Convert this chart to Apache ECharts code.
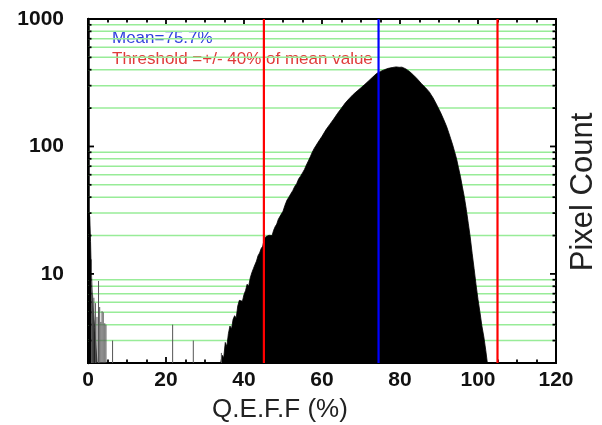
<!DOCTYPE html>
<html><head><meta charset="utf-8">
<script src="https://cdn.jsdelivr.net/npm/echarts@6/dist/echarts.min.js"></script>
<style>html,body{margin:0;padding:0;background:#fff}#c{width:602px;height:425px}</style>
</head><body><div id="c"></div>
<script>
// ---- data ----
const histX = [34.0,34.4,34.8,35.2,35.6,36.0,36.4,36.8,37.2,37.6,38.0,38.4,38.8,39.2,39.6,40.0,40.4,40.8,41.2,41.6,42.0,42.4,42.8,43.2,43.6,44.0,44.4,44.8,45.2,45.6,46.0,46.4,46.8,47.2,47.6,48.0,48.4,48.8,49.2,49.6,50.0,50.5,51.0,51.5,52.0,52.5,53.0,53.5,54.0,54.5,55.0,55.5,56.0,56.5,57.0,57.5,58.0,58.5,59.0,59.5,60.0,61.0,62.0,63.0,64.0,65.0,66.0,67.0,68.0,69.0,70.0,71.0,72.0,73.0,74.0,75.0,76.0,77.0,78.0,79.0,79.8,80.5,81.5,82.5,83.5,84.5,85.5,86.5,87.5,88.5,89.5,90.5,91.5,92.0,92.5,93.0,93.5,94.0,94.5,95.0,95.5,96.0,96.5,97.0,97.5,98.0,98.5,99.0,99.5,100.0,100.5,101.0,101.5,102.0,102.4];
const histY = [2.0,2.3,2.2,2.9,2.7,3.4,3.9,3.7,4.4,4.7,4.5,5.6,6.2,6.4,6.1,6.9,7.4,8.3,8.0,9.3,10.2,11.0,11.8,12.6,13.9,14.6,15.8,16.5,18.8,19.6,19.0,20.1,20.6,20.0,22.0,23.5,24.6,26.8,27.5,29.6,31.0,34.5,37.8,40.0,42.5,45.0,48.5,51.0,55.5,58.5,62.0,66.0,71.5,77.0,83.0,90.0,96.5,102,108,114,120,135,149,164,182,200,220,238,256,272,289,307,328,350,374,388,400,410,416,421,418,419,406,386,362,337,311,290,268,240,210,182,155,142,128,115,103,91,80,68,58,48,40,32,25,19.5,14.5,11,8.2,6.3,5.0,3.9,3.2,2.5,2.0];
const lowX = [0.25,0.45,0.65,0.8,0.95,1.1,1.4,1.7,2.0,2.3];
const lowY = [30,28,18,11.5,9,6.5,5,3.8,2.8,2.0];
const spikeX = [0.9,1.2,1.5,1.9,2.3,2.7,3.0,3.3,3.6,3.9,4.3,4.6,6.3,21.7,27.0,34.2];
const spikeY = [13,6.8,6.5,5.9,4.6,8.8,5.5,4.2,5.1,5.0,4.1,4.0,3.0,4.0,3.0,2.4];
const thresholdX = [45.1, 105.0];
const meanX = [74.5];
const yMajorTicks = [10, 100, 1000];
const yMinorTicks = [3,4,5,6,7,8,9,20,30,40,50,60,70,80,90,200,300,400,500,600,700,800,900];
const meanText = 'Mean=75.7%';
const thresholdText = 'Threshold =+/- 40% of mean value';
const xTitle = 'Q.E.F.F (%)';
const yTitle = 'Pixel Count';

const FONT = '"Liberation Sans", Arial, sans-serif';
const chart = echarts.init(document.getElementById('c'), null, {renderer:'canvas'});

const pairs = (xs, ys) => xs.map((x,i)=>[x, ys[i]]);

const gridLineSeries = {
  type:'custom', z:1, silent:true,
  data: yMinorTicks.map(v=>[0, v]),
  encode:{x:0, y:1},
  renderItem(params, api){
    const cs = params.coordSys;
    const y = api.coord([0, api.value(1)])[1];
    return {type:'line', shape:{x1:cs.x, y1:y, x2:cs.x+cs.width, y2:y},
      style:{stroke:'#98ec98', lineWidth:1.5}};
  }
};
const tickSeries = {
  type:'custom', z:6, silent:true,
  data: yMajorTicks.map(v=>[0,v,1]).concat(yMinorTicks.map(v=>[0,v,0])),
  encode:{x:0, y:1},
  renderItem(params, api){
    const cs = params.coordSys;
    const y = api.coord([0, api.value(1)])[1];
    const len = api.value(2) ? 6 : 3.5;
    return {type:'group', children:[
      {type:'line', shape:{x1:cs.x, y1:y, x2:cs.x+len, y2:y}, style:{stroke:'#000', lineWidth:1.8}},
      {type:'line', shape:{x1:cs.x+cs.width-len, y1:y, x2:cs.x+cs.width, y2:y}, style:{stroke:'#000', lineWidth:1.8}}
    ]};
  }
};
const vlineSeries = (xs, color) => ({
  type:'custom', z:5, silent:true,
  data: xs.map(x=>[x, 2]),
  encode:{x:0, y:1},
  renderItem(params, api){
    const cs = params.coordSys;
    const x = api.coord([api.value(0), 2])[0];
    return {type:'line', shape:{x1:x, y1:cs.y, x2:x, y2:cs.y+cs.height},
      style:{stroke:color, lineWidth:2.2}};
  }
});
const spikeSeries = {
  type:'custom', z:4, silent:true,
  data: pairs(spikeX, spikeY),
  encode:{x:0, y:1},
  renderItem(params, api){
    const cs = params.coordSys;
    const p = api.coord([api.value(0), api.value(1)]);
    return {type:'line', shape:{x1:p[0], y1:cs.y+cs.height, x2:p[0], y2:p[1]},
      style:{stroke:'#555', lineWidth:1}};
  }
};
const areaSeries = (data) => ({
  type:'line', z:3, data, showSymbol:false, symbol:'none', silent:true,
  lineStyle:{color:'#000', width:0.8},
  areaStyle:{color:'#000', opacity:1, origin:'start'}
});

const logAxisBase = {type:'log', logBase:10, min:2, max:1000, splitLine:{show:false}, axisTick:{show:false}};
chart.setOption({
  animation:false,
  backgroundColor:'#fff',
  grid:{left:88, right:46, top:19, bottom:62, show:true, borderColor:'#000', borderWidth:2, backgroundColor:'transparent'},
  xAxis:[
    {type:'value', position:'bottom', min:0, max:120, interval:20,
     axisLine:{show:true, lineStyle:{color:'#000', width:2}},
     axisTick:{show:true, inside:true, length:6, lineStyle:{color:'#000', width:1.8}},
     minorTick:{show:true, splitNumber:4, length:3.5, lineStyle:{color:'#000', width:1.8}},
     splitLine:{show:false},
     axisLabel:{color:'#111', fontFamily:FONT, fontWeight:'bold', fontSize:21, margin:7}},
    {type:'value', position:'top', min:0, max:120, interval:20,
     axisLine:{show:true, lineStyle:{color:'#000', width:2}},
     axisTick:{show:true, inside:true, length:6, lineStyle:{color:'#000', width:1.8}},
     minorTick:{show:true, splitNumber:4, length:3.5, lineStyle:{color:'#000', width:1.8}},
     splitLine:{show:false}, axisLabel:{show:false}}
  ],
  yAxis:[
    Object.assign({}, logAxisBase, {position:'left',
      axisLine:{show:true, lineStyle:{color:'#000', width:2.5}},
      axisLabel:{color:'#111', fontFamily:FONT, fontWeight:'bold', fontSize:21, margin:24,
        formatter:(v)=>{const l=Math.log10(v); return (Math.abs(l-Math.round(l))<1e-6 && v>=10) ? String(Math.round(v)) : '';}}}),
    Object.assign({}, logAxisBase, {position:'right',
      axisLine:{show:true, lineStyle:{color:'#000', width:2}}, axisLabel:{show:false}})
  ],
  graphic:[
    {type:'text', left:112, top:30, style:{text:meanText, fill:'#3040dd', font:'17px '+FONT}},
    {type:'text', left:112, top:51, style:{text:thresholdText, fill:'#e03a3a', font:'17px '+FONT}},
    {type:'text', x:280, y:410,
     style:{text:xTitle, fill:'#222', font:'26px '+FONT, textAlign:'center', textVerticalAlign:'middle'}},
    {type:'text', x:583, y:192, rotation:Math.PI/2,
     style:{text:yTitle, fill:'#222', font:'31px '+FONT, textAlign:'center', textVerticalAlign:'middle'}}
  ],
  series:[
    gridLineSeries,
    areaSeries(pairs(histX, histY)),
    areaSeries(pairs(lowX, lowY)),
    spikeSeries,
    vlineSeries(thresholdX, '#ff0000'),
    vlineSeries(meanX, '#0000ff'),
    tickSeries
  ]
});
</script></body></html>
